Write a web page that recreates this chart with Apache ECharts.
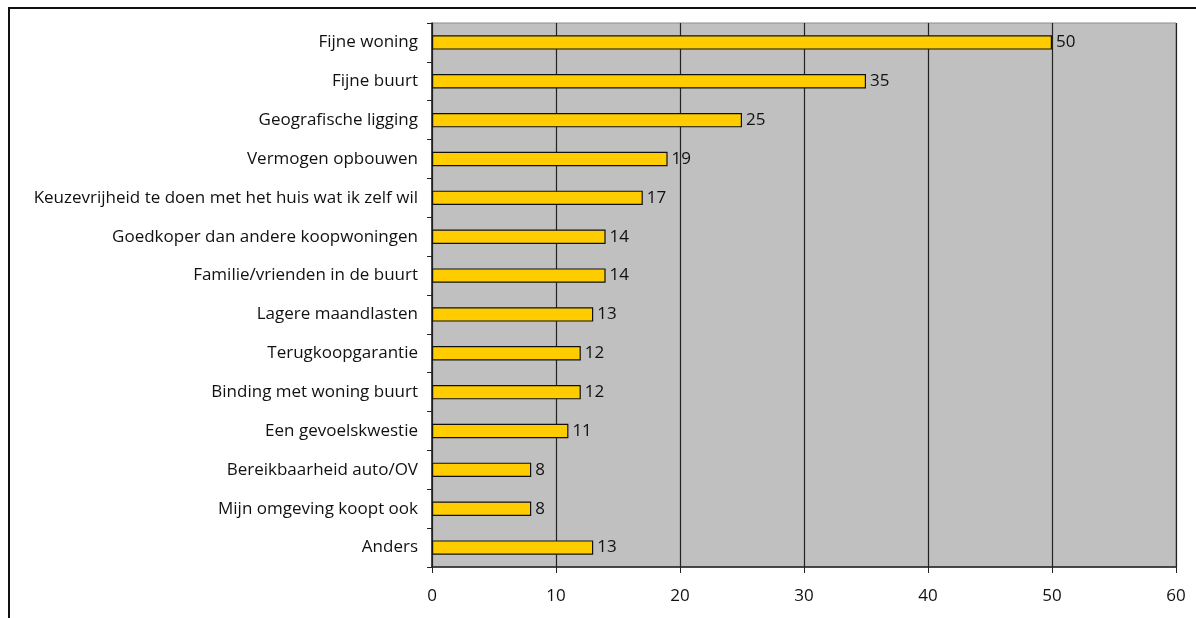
<!DOCTYPE html>
<html>
<head>
<meta charset="utf-8">
<script src="https://cdn.jsdelivr.net/npm/echarts@6/dist/echarts.min.js"></script>
<style>
  html, body { margin: 0; padding: 0; background: #fff; }
  #wrap { position: relative; width: 1196px; height: 618px; overflow: hidden; }
  #frame { position: absolute; left: 8px; top: 7px; width: 1200px; height: 640px; border: 2px solid #111; box-sizing: border-box; }
  #chart { position: absolute; left: 0; top: 0; width: 1196px; height: 618px; }
</style>
</head>
<body>
<div id="wrap">
  <div id="frame"></div>
  <div id="chart"></div>
</div>
<script>
// Redenen om te kopen (aantal respondenten)
const categories = [
  'Fijne woning',
  'Fijne buurt',
  'Geografische ligging',
  'Vermogen opbouwen',
  'Keuzevrijheid te doen met het huis wat ik zelf wil',
  'Goedkoper dan andere koopwoningen',
  'Familie/vrienden in de buurt',
  'Lagere maandlasten',
  'Terugkoopgarantie',
  'Binding met woning buurt',
  'Een gevoelskwestie',
  'Bereikbaarheid auto/OV',
  'Mijn omgeving koopt ook',
  'Anders'
];
const values = [50, 35, 25, 19, 17, 14, 14, 13, 12, 12, 11, 8, 8, 13];
const xTicks = [0, 10, 20, 30, 40, 50, 60];

const FONT = '"Open Sans", "Noto Sans", sans-serif';
const FS = 17;

const chart = echarts.init(document.getElementById('chart'), null, { renderer: 'canvas' });
chart.setOption({
  animation: false,
  grid: {
    left: 432, top: 23, right: 20, bottom: 51,
    show: true,
    backgroundColor: '#C0C0C0',
    borderColor: '#8c8c8c',
    borderWidth: 1
  },
  xAxis: {
    type: 'value',
    min: xTicks[0],
    max: xTicks[xTicks.length - 1],
    interval: 10,
    axisLine: { show: true, lineStyle: { color: '#222', width: 1.5 } },
    axisTick: { show: true, length: 6, lineStyle: { color: '#222' } },
    splitLine: { show: true, lineStyle: { color: '#222', width: 1.2 } },
    axisLabel: { color: '#111', fontFamily: FONT, fontSize: FS, margin: 21 }
  },
  yAxis: {
    type: 'category',
    inverse: true,
    data: categories,
    axisLine: { show: true, lineStyle: { color: '#222', width: 1.5 } },
    axisTick: { show: true, length: 5, lineStyle: { color: '#222' } },
    axisLabel: { color: '#111', fontFamily: FONT, fontSize: FS, margin: 14 }
  },
  series: [{
    type: 'bar',
    data: values,
    barWidth: '37%',
    itemStyle: { color: '#FFCC00', borderColor: '#111', borderWidth: 1.2 },
    label: {
      show: true,
      position: 'right',
      distance: 4,
      color: '#111',
      fontFamily: FONT,
      fontSize: FS
    }
  }]
});
</script>
</body>
</html>
